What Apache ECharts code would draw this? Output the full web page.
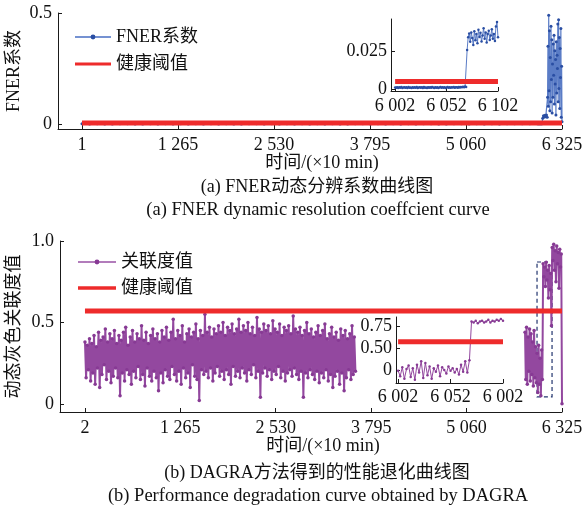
<!DOCTYPE html>
<html><head><meta charset="utf-8">
<script src="https://cdn.jsdelivr.net/npm/echarts@6/dist/echarts.min.js"></script>
<style>html,body{margin:0;padding:0;background:#fff}#c{width:583px;height:508px}</style>
</head><body><div id="c"></div>
<script>
// ---------------- data ----------------
const fnerTicks = [1, 1265, 2530, 3795, 5060, 6325];
const fnerTickLabels = ['1', '1 265', '2 530', '3 795', '5 060', '6 325'];
const dagraTicks = [2, 1265, 2530, 3795, 5060, 6325];
const dagraTickLabels = ['2', '1 265', '2 530', '3 795', '5 060', '6 325'];
const fnerYTicks = [0, 0.5];
const fnerYTickLabels = ['0', '0.5'];
const dagraYTicks = [0, 0.5, 1.0];
const dagraYTickLabels = ['0', '0.5', '1.0'];
const insetATicks = [6002, 6052, 6102];
const insetATickLabels = ['6 002', '6 052', '6 102'];
const insetAYTicks = [0, 0.025];
const insetAYTickLabels = ['0', '0.025'];
const insetBTicks = [6002, 6052, 6102];
const insetBTickLabels = ['6 002', '6 052', '6 002'];
const insetBYTicks = [0.25, 0.5, 0.75];
const insetBYTickLabels = ['0', '0.50', '0.75'];

const fnerThreshold = 0.005;
const dagraThreshold = 0.57;

// FNER main curve: flat part (from t=1, every 100), rise (from 6011, every 10), spikes (from 6130, every 5)
const fnerFlat = [0.0006,0.0004,0.0007,0.0005,0.0003,0.0006,0.0008,0.0004,0.0005,0.0007,
0.0003,0.0006,0.0005,0.0008,0.0004,0.0006,0.0005,0.0007,0.0004,0.0006,
0.0005,0.0003,0.0007,0.0006,0.0004,0.0008,0.0005,0.0006,0.0004,0.0007,
0.0005,0.0006,0.0003,0.0007,0.0005,0.0004,0.0006,0.0008,0.0005,0.0006,
0.0004,0.0007,0.0005,0.0006,0.0003,0.0007,0.0006,0.0005,0.0004,0.0008,
0.0006,0.0005,0.0007,0.0004,0.0006,0.0005,0.0008,0.0006,0.0007,0.0009,0.0010];
const fnerRise = [0.0010,0.0012,0.0009,0.0011,0.0013,0.0014,0.0256,0.0372,0.0320,0.0390,0.0330,0.0410];
const fnerSpike = [0.030,0.120,0.350,0.080,0.490,0.150,0.420,0.060,0.300,0.100,
0.440,0.200,0.380,0.050,0.270,0.120,0.360,0.220,0.400,0.090,
0.330,0.180,0.290,0.040,0.370,0.140,0.310,0.250,0.450,0.100,
0.470,0.160,0.390,0.070,0.340,0.210,0.430,0.030,0.260,0.010];

// FNER inset (t = 6002 .. 6102, every 1)
const insetALow = [0.0010,0.0008,0.0012,0.0007,0.0011,0.0009,0.0013,0.0006,0.0010,0.0012,
0.0008,0.0011,0.0007,0.0013,0.0009,0.0010,0.0006,0.0012,0.0008,0.0011,
0.0009,0.0014,0.0007,0.0010,0.0012,0.0008,0.0011,0.0006,0.0013,0.0009,
0.0010,0.0007,0.0012,0.0009,0.0011,0.0008,0.0013,0.0010,0.0006,0.0012,
0.0009,0.0011,0.0007,0.0010,0.0013,0.0008,0.0012,0.0009,0.0011,0.0007,
0.0010,0.0014,0.0008,0.0011,0.0009,0.0012,0.0010,0.0013,0.0008,0.0011,
0.0012,0.0009,0.0014,0.0010,0.0013,0.0011,0.0015,0.0012,0.0016,0.0014];
const insetAHigh = [0.0256,0.0340,0.0365,0.0310,0.0372,0.0335,0.0290,0.0380,0.0320,0.0362,
0.0300,0.0390,0.0342,0.0370,0.0312,0.0352,0.0400,0.0330,0.0372,0.0305,
0.0362,0.0382,0.0322,0.0352,0.0392,0.0330,0.0362,0.0315,0.0410,0.0440,0.0340];

// DAGRA main curve: segment 1 (from t=2, every 15), segment 2 (from t=5835, every 10)
const dagraSeg1 = [
0.38,0.16,0.36,0.21,0.40,0.14,0.37,0.19,0.42,0.12,
0.35,0.22,0.44,0.10,0.39,0.18,0.41,0.24,0.46,0.15,
0.38,0.20,0.43,0.13,0.40,0.17,0.45,0.22,0.37,0.16,
0.42,0.05,0.39,0.19,0.44,0.14,0.47,0.21,0.36,0.18,
0.41,0.12,0.45,0.20,0.38,0.16,0.43,0.23,0.40,0.15,
0.48,0.18,0.39,0.11,0.44,0.22,0.37,0.17,0.42,0.14,
0.46,0.20,0.40,0.16,0.43,0.08,0.38,0.19,0.45,0.13,
0.41,0.21,0.47,0.17,0.39,0.15,0.44,0.23,0.52,0.18,
0.40,0.14,0.45,0.20,0.42,0.12,0.48,0.22,0.38,0.16,
0.43,0.19,0.46,0.10,0.41,0.24,0.44,0.17,0.49,0.15,
0.40,0.02,0.45,0.21,0.42,0.18,0.55,0.20,0.44,0.16,
0.47,0.22,0.41,0.14,0.46,0.19,0.43,0.23,0.48,0.17,
0.44,0.20,0.50,0.15,0.42,0.21,0.47,0.18,0.45,0.12,
0.49,0.23,0.43,0.17,0.46,0.20,0.52,0.16,0.44,0.22,
0.48,0.19,0.45,0.14,0.50,0.21,0.43,0.18,0.47,0.24,
0.42,0.16,0.53,0.20,0.46,0.04,0.44,0.19,0.49,0.22,
0.45,0.17,0.48,0.21,0.43,0.15,0.51,0.20,0.46,0.18,
0.44,0.23,0.49,0.16,0.42,0.20,0.47,0.14,0.45,0.19,
0.48,0.21,0.43,0.17,0.54,0.22,0.46,0.18,0.44,0.15,
0.47,0.20,0.42,0.04,0.45,0.19,0.50,0.16,0.43,0.21,
0.46,0.18,0.41,0.15,0.44,0.20,0.48,0.13,0.42,0.19,
0.45,0.16,0.49,0.21,0.40,0.14,0.43,0.18,0.47,0.10,
0.41,0.17,0.44,0.20,0.39,0.12,0.46,0.19,0.42,0.08,
0.45,0.16,0.40,0.21,0.43,0.15,0.48,0.18,0.41,0.20];
const dagraSeg2 = [
0.44,0.15,0.47,0.12,0.41,0.20,0.46,0.14,0.43,0.18,
0.38,0.11,0.45,0.16,0.35,0.13,0.31,0.07,0.36,0.12,
0.28,0.05,0.33,0.15,0.86,0.78,0.84,0.72,0.87,0.76,
0.82,0.65,0.85,0.70,0.80,0.48,0.96,0.88,0.98,0.82,
0.94,0.75,0.97,0.86,0.93,0.71,0.95,0.84,0.92,0.00];

// DAGRA inset (t = 6002 .. 6102, every 2)
const insetB = [
0.24,0.18,0.28,0.15,0.26,0.30,0.17,0.27,0.14,0.31,
0.22,0.35,0.16,0.33,0.19,0.29,0.15,0.27,0.23,0.30,
0.18,0.28,0.25,0.21,0.29,0.24,0.27,0.22,0.26,0.20,
0.31,0.23,0.35,0.22,0.36,
0.80,0.79,0.81,0.78,0.80,0.81,0.79,0.80,0.82,0.79,0.81,0.80,0.82,0.81,0.83,0.81];

// dashed zoom box on the DAGRA curve (time range, value range)
const zoomBoxTime = [5994, 6193];
const zoomBoxValue = [0.043, 0.871];

// ---------------- helpers ----------------
function seq(start, step, values) { return values.map((v, i) => [start + i * step, v]); }
const FONT = "'Liberation Serif','Noto Sans CJK SC',serif";
const INK = '#1a1a1a';
function labelFor(ticks, labels) {
  return v => { for (let i = 0; i < ticks.length; i++) if (Math.abs(ticks[i] - v) < 1e-9) return labels[i]; return ''; };
}
function axis(gridIndex, min, max, ticks, labels, margin, extra) {
  return Object.assign({
    type: 'value', gridIndex, min, max,
    axisLine: { show: true, onZero: false, lineStyle: { color: INK, width: 1 } },
    axisTick: { show: true, inside: true, length: 4, customValues: ticks, lineStyle: { color: INK } },
    axisLabel: { customValues: ticks, formatter: labelFor(ticks, labels), margin, fontSize: 18, color: '#111', fontFamily: FONT },
    splitLine: { show: false }
  }, extra || {});
}
function grid(left, top, width, height) {
  return { left, top, width, height, containLabel: false, outerBoundsMode: 'none' };
}

const blueLine = '#5a7cc6', blueDot = '#2a4ea3';
const purpleLine = '#93489f', purpleDot = '#873a94';
const red = '#ee2b2b';
const barIcon = 'path://M0,0H38V3.4H0Z';

const fnerMain = seq(1, 100, fnerFlat).concat(seq(6011, 10, fnerRise), seq(6130, 5, fnerSpike));
const fnerInset = seq(6002, 1, insetALow.concat(insetAHigh));
const dagraMain = seq(2, 15, dagraSeg1).concat([[3700, '-']], seq(5835, 10, dagraSeg2));
const dagraInset = seq(6002, 2, insetB);

const chart = echarts.init(document.getElementById('c'), null, { renderer: 'canvas' });
chart.setOption({
  animation: false,
  backgroundColor: '#fff',
  textStyle: { fontFamily: FONT },
  grid: [
    grid(58, 13, 504, 116),
    grid(391, 19, 107, 72),
    grid(60, 241, 502, 171),
    grid(396, 317, 107, 66)
  ],
  xAxis: [
    axis(0, -315, 6325, fnerTicks, fnerTickLabels, 7, {
      name: '时间/(×10 min)', nameLocation: 'middle', nameGap: 25, nameMoveOverlap: false,
      nameTextStyle: { fontSize: 18, color: '#111', fontFamily: FONT, padding: [0, 0, 0, 24] } }),
    axis(1, 5998, 6102, insetATicks, insetATickLabels, 6),
    axis(2, -329, 6325, dagraTicks, dagraTickLabels, 7, {
      name: '时间/(×10 min)', nameLocation: 'middle', nameGap: 25, nameMoveOverlap: false,
      nameTextStyle: { fontSize: 18, color: '#111', fontFamily: FONT, padding: [0, 0, 0, 24] } }),
    axis(3, 6000, 6102, insetBTicks, insetBTickLabels, 5)
  ],
  yAxis: [
    axis(0, -0.0225, 0.5, fnerYTicks, fnerYTickLabels, 6, {
      name: 'FNER系数', nameLocation: 'middle', nameGap: 35, nameMoveOverlap: false,
      nameTextStyle: { fontSize: 18, color: '#111', fontFamily: FONT } }),
    axis(1, -0.0013, 0.046, insetAYTicks, insetAYTickLabels, 4),
    axis(2, -0.05, 1.0, dagraYTicks, dagraYTickLabels, 6, {
      name: '动态灰色关联度值', nameLocation: 'middle', nameGap: 37, nameMoveOverlap: false,
      nameTextStyle: { fontSize: 18, color: '#111', fontFamily: FONT } }),
    axis(3, 0.102, 0.852, insetBYTicks, insetBYTickLabels, 4)
  ],
  legend: [
    { orient: 'vertical', left: 69, top: 23, itemWidth: 36, itemHeight: 6, itemGap: 9,
      textStyle: { fontSize: 18, color: '#111', fontFamily: FONT },
      data: [{ name: 'FNER系数', lineStyle: { width: 2, color: '#7592d2' } }, { name: '健康阈值', icon: barIcon }] },
    { orient: 'vertical', left: 72, top: 248, itemWidth: 38, itemHeight: 6, itemGap: 8,
      textStyle: { fontSize: 18, color: '#111', fontFamily: FONT },
      data: [{ name: '关联度值', lineStyle: { width: 2, color: '#b27cbb' } }, { name: '健康阈值 ', icon: barIcon }] }
  ],
  series: [
    { name: 'FNER系数', type: 'line', xAxisIndex: 0, yAxisIndex: 0, data: fnerMain,
      symbol: 'circle', symbolSize: 3, showAllSymbol: true,
      lineStyle: { color: blueLine, width: 1.2 }, itemStyle: { color: blueDot }, z: 2 },
    { name: '健康阈值', type: 'line', xAxisIndex: 0, yAxisIndex: 0,
      data: [[fnerTicks[0], fnerThreshold], [6325, fnerThreshold]],
      symbol: 'none', lineStyle: { color: red, width: 5 }, itemStyle: { color: red }, z: 3 },
    { name: 'FNER系数局部', type: 'line', xAxisIndex: 1, yAxisIndex: 1, data: fnerInset,
      symbol: 'circle', symbolSize: 2.5, showAllSymbol: true,
      lineStyle: { color: blueLine, width: 1 }, itemStyle: { color: blueDot }, z: 2 },
    { name: '健康阈值局部A', type: 'line', xAxisIndex: 1, yAxisIndex: 1,
      data: [[6002, fnerThreshold], [6102, fnerThreshold]],
      symbol: 'none', lineStyle: { color: red, width: 5 }, z: 3 },
    { name: '关联度值', type: 'line', xAxisIndex: 2, yAxisIndex: 2, data: dagraMain,
      symbol: 'circle', symbolSize: 3.5, showAllSymbol: true, connectNulls: false,
      lineStyle: { color: purpleLine, width: 2 }, itemStyle: { color: purpleDot }, z: 2,
      markArea: { silent: true,
        itemStyle: { color: 'rgba(0,0,0,0)', borderColor: '#22346e', borderWidth: 1.2, borderType: [4, 3] },
        data: [[{ coord: [zoomBoxTime[0], zoomBoxValue[1]] }, { coord: [zoomBoxTime[1], zoomBoxValue[0]] }]] } },
    { name: '健康阈值 ', type: 'line', xAxisIndex: 2, yAxisIndex: 2,
      data: [[dagraTicks[0], dagraThreshold], [6325, dagraThreshold]],
      symbol: 'none', lineStyle: { color: red, width: 5 }, itemStyle: { color: red }, z: 3 },
    { name: '关联度值局部', type: 'line', xAxisIndex: 3, yAxisIndex: 3, data: dagraInset,
      symbol: 'circle', symbolSize: 2.5, showAllSymbol: true,
      lineStyle: { color: purpleLine, width: 1 }, itemStyle: { color: purpleDot }, z: 2 },
    { name: '健康阈值局部B', type: 'line', xAxisIndex: 3, yAxisIndex: 3,
      data: [[6002, dagraThreshold], [6102, dagraThreshold]],
      symbol: 'none', lineStyle: { color: red, width: 5 }, z: 3 }
  ],
  graphic: [
    { type: 'text', x: 317, y: 187, style: { text: '(a) FNER动态分辨系数曲线图', font: "18px " + FONT, fill: '#111', textAlign: 'center', textVerticalAlign: 'middle' } },
    { type: 'text', x: 318, y: 210, style: { text: '(a) FNER dynamic resolution coeffcient curve', font: "18.5px " + FONT, fill: '#111', textAlign: 'center', textVerticalAlign: 'middle' } },
    { type: 'text', x: 317, y: 473, style: { text: '(b) DAGRA方法得到的性能退化曲线图', font: "18px " + FONT, fill: '#111', textAlign: 'center', textVerticalAlign: 'middle' } },
    { type: 'text', x: 318, y: 496, style: { text: '(b) Performance degradation curve obtained by DAGRA', font: "18.5px " + FONT, fill: '#111', textAlign: 'center', textVerticalAlign: 'middle' } }
  ]
});
</script></body></html>
